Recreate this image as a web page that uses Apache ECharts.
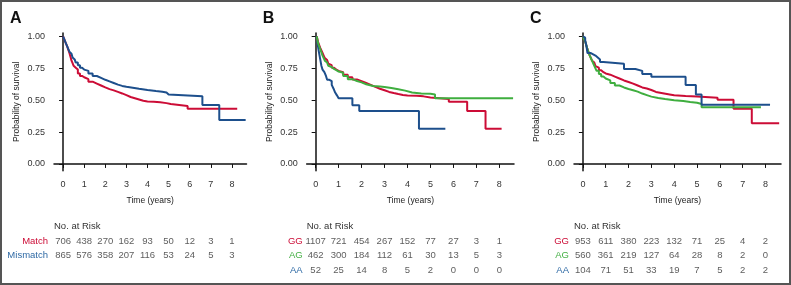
<!doctype html>
<html lang="en">
<head>
<meta charset="UTF-8">
<title>Survival by genotype</title>
<script src="https://cdn.jsdelivr.net/npm/echarts@6/dist/echarts.min.js"></script>
<style>
    html, body { margin: 0; padding: 0; background: #fff; }
    .wrap { position: relative; width: 791px; height: 285px; }
    #main { width: 791px; height: 285px; }
    .frame { position: absolute; left: 0; top: 0; width: 791px; height: 285px; box-sizing: border-box;
             border: 2px solid #555; pointer-events: none; }
</style>
</head>
<body>
<div class="wrap">
    <div id="main"></div>
    <div class="frame"></div>
</div>
<script>
    // ---------- data ----------
    var years = [0, 1, 2, 3, 4, 5, 6, 7, 8];
    var yTicks = [0, 0.25, 0.5, 0.75, 1];

    // panel A : Match vs Mismatch
    var aMatch = [[0,1],[0.05,0.98],[0.1,0.96],[0.15,0.94],[0.2,0.92],[0.25,0.895],[0.3,0.87],[0.35,0.84],[0.4,0.81],[0.45,0.79],
        [0.5,0.77],[0.55,0.755],[0.6,0.74],[0.7,0.71],[0.8,0.69],[0.9,0.68],
        [1.0,0.665],[1.2,0.645],[1.4,0.63],[1.6,0.615],[1.8,0.6],[2.0,0.587],[2.2,0.577],[2.4,0.565],[2.6,0.553],[2.8,0.54],
        [3.0,0.525],[3.2,0.515],[3.4,0.505],[3.6,0.495],[3.8,0.49],[4.0,0.487],[4.3,0.483],[4.6,0.477],[4.9,0.47],[5.1,0.455],
        [5.9,0.432],[8.25,0.432]];
    var aMismatch = [[0,1],[0.05,0.98],[0.1,0.96],[0.15,0.94],[0.2,0.92],[0.25,0.9],[0.3,0.88],[0.35,0.865],[0.4,0.85],[0.45,0.835],
        [0.5,0.82],[0.55,0.807],[0.6,0.795],[0.7,0.775],[0.8,0.755],[0.9,0.74],
        [1.0,0.73],[1.2,0.71],[1.4,0.69],[1.6,0.675],[1.8,0.66],[2.0,0.648],[2.2,0.635],[2.4,0.622],[2.6,0.612],[2.8,0.605],
        [3.0,0.598],[3.3,0.59],[3.6,0.58],[4.0,0.572],[4.4,0.567],[4.7,0.56],[4.9,0.545],[5.0,0.53],[6.6,0.463],[7.4,0.345],[8.65,0.345]];

    // panel B
    var bGG = [[0.05,1],[0.075,0.98],[0.1,0.96],[0.15,0.935],[0.2,0.91],[0.25,0.89],[0.3,0.87],[0.35,0.85],[0.4,0.83],[0.45,0.815],
        [0.5,0.8],[0.55,0.787],[0.6,0.775],[0.7,0.755],[0.8,0.74],[0.9,0.73],
        [1.0,0.72],[1.2,0.7],[1.4,0.68],[1.6,0.663],[1.8,0.65],[2.0,0.635],[2.2,0.62],[2.4,0.605],[2.6,0.59],[2.8,0.578],
        [3.0,0.565],[3.2,0.556],[3.4,0.548],[3.6,0.541],[3.8,0.537],[4.0,0.534],[4.4,0.53],[4.7,0.522],[5.0,0.51],[5.8,0.487],
        [6.6,0.415],[7.4,0.277],[8.1,0.277]];
    var bAG = [[0.05,1],[0.075,0.975],[0.1,0.95],[0.15,0.925],[0.2,0.9],[0.25,0.875],[0.3,0.85],[0.35,0.83],[0.4,0.81],[0.45,0.795],
        [0.5,0.78],[0.55,0.77],[0.6,0.76],[0.7,0.745],[0.8,0.735],[0.9,0.725],
        [1.0,0.715],[1.2,0.69],[1.4,0.665],[1.6,0.65],[1.8,0.64],[2.0,0.625],[2.2,0.612],[2.5,0.607],[2.8,0.603],[3.0,0.595],
        [3.3,0.585],[3.6,0.575],[3.9,0.56],[4.2,0.553],[4.6,0.55],[5.0,0.545],[5.2,0.516],[8.6,0.516]];
    var bAA = [[0.04,1],[0.08,0.95],[0.12,0.9],[0.16,0.86],[0.2,0.82],[0.25,0.77],[0.3,0.74],[0.38,0.72],[0.45,0.69],[0.5,0.66],
        [0.6,0.65],[0.7,0.62],[0.78,0.59],[0.85,0.56],[0.92,0.54],[1.0,0.515],[1.6,0.46],[1.9,0.415],[4.5,0.277],[5.65,0.277]];

    // panel C
    var cGG = [[0,1],[0.05,0.98],[0.1,0.96],[0.15,0.93],[0.2,0.9],[0.25,0.875],[0.3,0.85],[0.35,0.83],[0.4,0.81],[0.45,0.795],
        [0.5,0.78],[0.55,0.767],[0.6,0.755],[0.7,0.735],[0.8,0.72],[0.9,0.71],
        [1.0,0.7],[1.2,0.685],[1.4,0.67],[1.6,0.655],[1.8,0.643],[2.0,0.63],[2.2,0.615],[2.4,0.6],[2.6,0.592],[2.8,0.58],
        [3.0,0.565],[3.2,0.555],[3.5,0.545],[3.8,0.538],[4.0,0.532],[4.5,0.528],[5.0,0.52],[5.9,0.503],[6.6,0.432],[7.4,0.32],[8.6,0.32]];
    var cAG = [[0,1],[0.05,0.98],[0.1,0.96],[0.15,0.93],[0.2,0.9],[0.25,0.875],[0.3,0.85],[0.35,0.83],[0.4,0.81],[0.45,0.79],
        [0.5,0.77],[0.55,0.75],[0.6,0.73],[0.7,0.705],[0.8,0.685],[0.9,0.67],
        [1.0,0.655],[1.2,0.635],[1.4,0.615],[1.6,0.6],[1.8,0.588],[2.0,0.578],[2.2,0.567],[2.4,0.552],[2.6,0.54],[2.8,0.528],
        [3.0,0.518],[3.3,0.51],[3.6,0.5],[4.0,0.493],[4.4,0.486],[4.7,0.48],[5.0,0.47],[5.2,0.445],[7.8,0.445]];
    var cAA = [[0,1],[0.05,0.99],[0.1,0.97],[0.15,0.93],[0.2,0.87],[0.35,0.86],[0.45,0.85],[0.55,0.835],[0.65,0.82],[0.75,0.8],
        [0.9,0.785],[1.8,0.745],[2.3,0.73],[2.6,0.705],[3.0,0.683],[4.5,0.62],[4.95,0.545],[5.2,0.464],[8.2,0.464]];

    // numbers at risk
    var riskMatch    = [706, 438, 270, 162, 93, 50, 12, 3, 1];
    var riskMismatch = [865, 576, 358, 207, 116, 53, 24, 5, 3];
    var riskBGG = [1107, 721, 454, 267, 152, 77, 27, 3, 1];
    var riskBAG = [462, 300, 184, 112, 61, 30, 13, 5, 3];
    var riskBAA = [52, 25, 14, 8, 5, 2, 0, 0, 0];
    var riskCGG = [953, 611, 380, 223, 132, 71, 25, 4, 2];
    var riskCAG = [560, 361, 219, 127, 64, 28, 8, 2, 0];
    var riskCAA = [104, 71, 51, 33, 19, 7, 5, 2, 2];

    // ---------- style ----------
    var RED = '#cc0c36', BLUE = '#1d4f8c', GREEN = '#3fae3f';
    var FONT = "'Liberation Sans', Arial, sans-serif";
    var labelColors = { Match: RED, Mismatch: '#2f6aa5', GG: RED, AG: '#45b045', AA: '#2f6aa5' };

    var panels = [
        { letter: 'A', left: 54, width: 192.5, xMin: -0.43, xMax: 8.69, labelMargin: 6,
          curves: [[aMatch, RED], [aMismatch, BLUE]],
          rows: ['Mismatch', 'Match'], risk: { Match: riskMatch, Mismatch: riskMismatch } },
        { letter: 'B', left: 306.7, width: 207.3, xMin: -0.39, xMax: 8.64, labelMargin: 4,
          curves: [[bAA, BLUE], [bGG, RED], [bAG, GREEN]],
          rows: ['AA', 'AG', 'GG'], risk: { GG: riskBGG, AG: riskBAG, AA: riskBAA } },
        { letter: 'C', left: 574, width: 207, xMin: -0.39, xMax: 8.68, labelMargin: 5,
          curves: [[cGG, RED], [cAG, GREEN], [cAA, BLUE]],
          rows: ['AA', 'AG', 'GG'], risk: { GG: riskCGG, AG: riskCAG, AA: riskCAA } }
    ];

    var option = { animation: false, title: [], grid: [], xAxis: [], yAxis: [], series: [] };
    var rich = {};
    Object.keys(labelColors).forEach(function (k) {
        rich[k] = { color: labelColors[k], fontSize: 9.5, fontFamily: FONT };
    });

    panels.forEach(function (p) {
        var plotIdx = option.grid.length;
        option.title.push({ text: p.letter, left: p.left - 44, top: 11, padding: 0,
            textStyle: { fontSize: 16, fontWeight: 'bold', fontFamily: FONT, color: '#111' } });
        option.title.push({ text: 'No. at Risk', left: p.left, top: 221, padding: 0,
            textStyle: { fontSize: 9.5, fontWeight: 'normal', fontFamily: FONT, color: '#333' } });

        // survival plot
        option.grid.push({ left: p.left, top: 33, width: p.width, height: 137.7 });
        option.xAxis.push({
            type: 'value', gridIndex: plotIdx, min: p.xMin, max: p.xMax,
            name: 'Time (years)', nameLocation: 'middle', nameGap: 25,
            nameTextStyle: { fontFamily: FONT, fontSize: 8.5, color: '#222' },
            axisLine: { lineStyle: { color: '#111', width: 1.5 } },
            axisTick: { length: 4, customValues: years, lineStyle: { color: '#111' } },
            axisLabel: { customValues: years, margin: 9, fontSize: 9, fontFamily: FONT, color: '#333' },
            splitLine: { show: false }
        });
        option.yAxis.push({
            type: 'value', gridIndex: plotIdx, min: -0.053, max: 1.027,
            name: 'Probability of survival', nameLocation: 'middle', nameGap: 33,
            nameTextStyle: { fontFamily: FONT, fontSize: 8.5, color: '#222' },
            axisLine: { show: true, lineStyle: { color: '#111', width: 1.5 } },
            axisTick: { show: true, length: 4, customValues: yTicks, lineStyle: { color: '#111' } },
            axisLabel: { customValues: yTicks, margin: 9, fontSize: 9, fontFamily: FONT, color: '#333',
                formatter: function (v) { return v.toFixed(2); } },
            splitLine: { show: false }
        });
        p.curves.forEach(function (c) {
            option.series.push({
                type: 'line', xAxisIndex: plotIdx, yAxisIndex: plotIdx, data: c[0], step: 'end',
                showSymbol: false, symbol: 'none', lineStyle: { color: c[1], width: 2 }, z: 3
            });
        });

        // number-at-risk table
        var tabIdx = option.grid.length;
        var n = p.rows.length;
        option.grid.push({ left: p.left, top: 241 - 7.25, width: p.width, height: 14.5 * n });
        option.xAxis.push({ type: 'value', gridIndex: tabIdx, min: p.xMin, max: p.xMax, show: false });
        option.yAxis.push({
            type: 'category', gridIndex: tabIdx, data: p.rows,
            axisLine: { show: false }, axisTick: { show: false }, splitLine: { show: false },
            axisLabel: { interval: 0, margin: p.labelMargin, rich: rich,
                formatter: function (v) { return '{' + v + '|' + v + '}'; } }
        });
        p.rows.forEach(function (r) {
            option.series.push({
                type: 'scatter', xAxisIndex: tabIdx, yAxisIndex: tabIdx, symbolSize: 0.1,
                itemStyle: { color: 'rgba(0,0,0,0)' },
                data: years.map(function (t, k) { return [t, r, p.risk[r][k]]; }),
                label: { show: true, position: 'inside', fontSize: 9.5, fontFamily: FONT, color: '#333',
                    formatter: function (q) { return q.value[2]; } }
            });
        });
    });

    var chart = echarts.init(document.getElementById('main'));
    chart.setOption(option);
</script>
</body>
</html>
